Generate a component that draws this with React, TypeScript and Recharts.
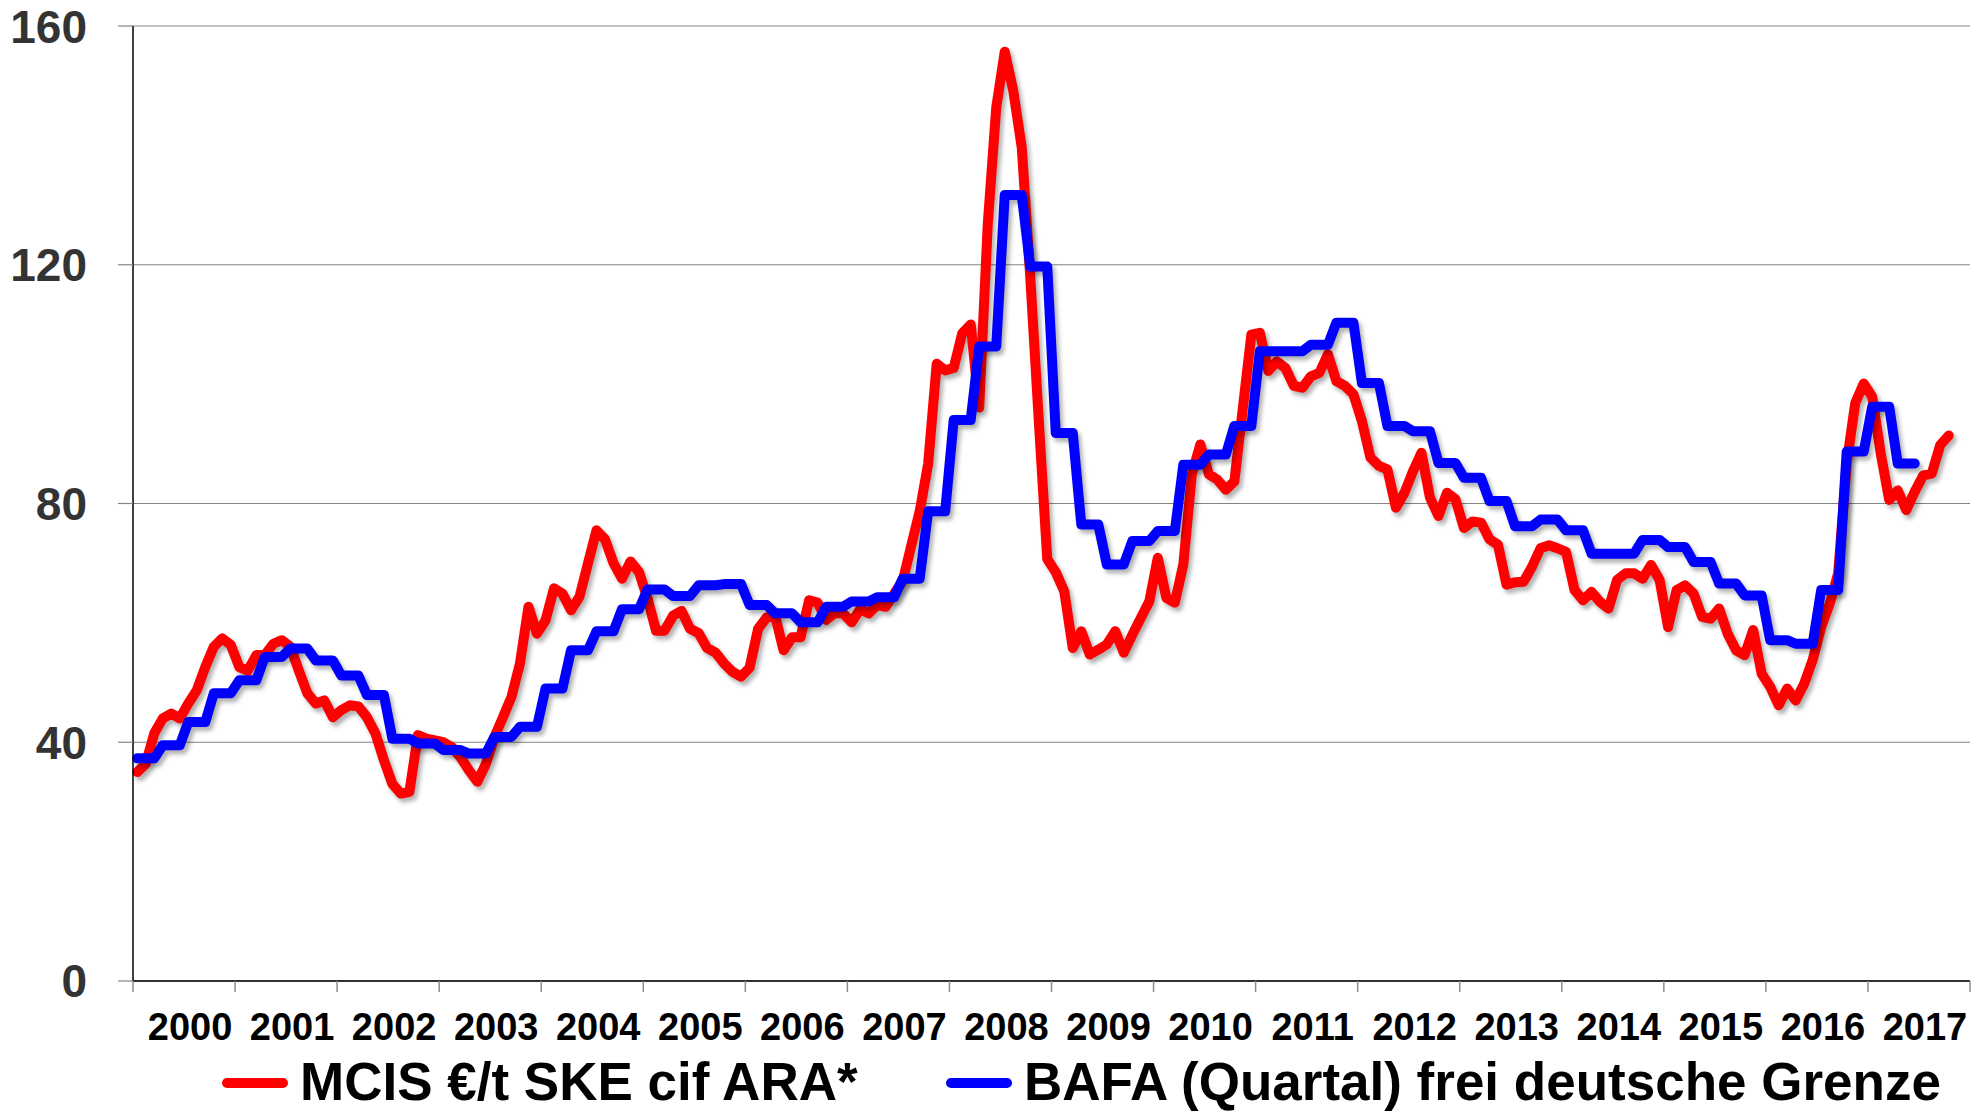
import React from "react";
import { LineChart, Line, XAxis, YAxis, CartesianGrid } from "recharts";

// Jahresachse
const years = [
  2000, 2001, 2002, 2003, 2004, 2005, 2006, 2007, 2008,
  2009, 2010, 2011, 2012, 2013, 2014, 2015, 2016, 2017,
];
const yTicks = [0, 40, 80, 120, 160];

// MCIS €/t SKE cif ARA, Monatswerte
const mcis2000 = [35, 36.4, 41.5, 44, 44.8, 44, 46.5, 48.7, 52.6, 56, 57.4, 56.3];
const mcis2001 = [52.6, 52, 54.6, 54.6, 56.5, 57.1, 56, 52, 48.2, 46.5, 47, 44.2];
const mcis2002 = [45.4, 46.2, 46, 44.2, 41.5, 37, 33, 31.4, 31.7, 41.2, 40.6, 40.3];
const mcis2003 = [40, 39.2, 37.5, 35.3, 33.4, 36.4, 40.9, 44.2, 47.6, 53.2, 62.7, 58.2];
const mcis2004 = [60.4, 65.8, 64.9, 62.1, 64.4, 70, 75.5, 74, 70, 67.4, 70.3, 68.5];
const mcis2005 = [64.1, 58.7, 58.7, 61.2, 62, 59, 58.3, 55.8, 55, 53.2, 51.8, 51];
const mcis2006 = [52.5, 59, 60.9, 61.2, 55.4, 57.6, 57.6, 63.8, 63.4, 60.5, 61.6, 61.6];
const mcis2007 = [60.1, 62.3, 61.6, 63, 62.7, 64.9, 67, 72.9, 78.7, 86.7, 103.4, 102.3];
const mcis2008 = [102.7, 108.5, 110, 96.1, 126.7, 146.3, 155.7, 149.2, 139.7, 118, 94, 70.7];
const mcis2009 = [68.5, 65.3, 55.8, 58.6, 54.7, 55.5, 56.4, 58.6, 55, 58, 60.8, 63.6];
const mcis2010 = [70.9, 64.2, 63.4, 69.8, 84.9, 89.9, 84.9, 84, 82.3, 83.7, 96, 108.3];
const mcis2011 = [108.6, 102.2, 103.8, 102.7, 99.7, 99.4, 101.3, 101.9, 105, 100.5, 99.7, 98.3];
const mcis2012 = [93.8, 87.7, 86.3, 85.7, 79.3, 81.8, 85.4, 88.5, 81, 77.9, 81.8, 80.7];
const mcis2013 = [75.9, 77, 76.8, 74, 73.1, 66.4, 66.8, 66.9, 69.4, 72.5, 73, 72.5];
const mcis2014 = [71.9, 65.5, 63.8, 65.2, 63.5, 62.4, 67.2, 68.3, 68.3, 67.4, 69.7, 67.2];
const mcis2015 = [59.3, 65.5, 66.3, 64.9, 61, 60.7, 62.4, 58.2, 55.4, 54.6, 58.8, 51.5];
const mcis2016 = [49.3, 46.2, 49, 47, 49.8, 53.8, 59.3, 63.2, 68.3, 86.7, 96.8, 100.1];
const mcis2017 = [97.9, 88.4, 80.6, 82.2, 78.9, 82, 84.7, 85, 89.8, 91.4];

// BAFA frei deutsche Grenze, Quartalswerte 2000 Q1 .. 2017 Q2
const bafaQuarterly = [
  37.3, 39.5, 43.4, 48.2, // 2000
  50.4, 54.3, 55.7, 53.7, // 2001
  51.2, 47.9, 40.6, 39.8, // 2002
  38.7, 38.1, 40.9, 42.6, // 2003
  49, 55.4, 58.6, 62.3, // 2004
  65.6, 64.5, 66.3, 66.5, // 2005
  63, 61.6, 60.1, 62.7, // 2006
  63.6, 64.3, 67.4, 78.7, // 2007
  94, 106.3, 131.7, 119.7, // 2008
  91.8, 76.5, 69.8, 73.7, // 2009
  75.4, 86.5, 88.2, 93, // 2010
  105.5, 105.5, 106.6, 110.3, // 2011
  100.2, 93, 92.1, 86.8, // 2012
  84.3, 80.4, 76.2, 77.3, // 2013
  75.5, 71.6, 71.6, 73.9, // 2014
  72.7, 70.2, 66.6, 64.6, // 2015
  57.1, 56.5, 65.5, 88.7, // 2016
  96.2, 86.7, // 2017
];

const mcis = [
  ...mcis2000, ...mcis2001, ...mcis2002, ...mcis2003, ...mcis2004, ...mcis2005,
  ...mcis2006, ...mcis2007, ...mcis2008, ...mcis2009, ...mcis2010, ...mcis2011,
  ...mcis2012, ...mcis2013, ...mcis2014, ...mcis2015, ...mcis2016, ...mcis2017,
];

// one row per month; the quarterly BAFA value holds for its three months
const chartData = mcis.map((v, m) => ({
  x: m + 0.5,
  mcis: v,
  bafa: bafaQuarterly[Math.floor(m / 3)],
}));

const yearTicks = [...years.map((_, i) => i * 12), years.length * 12];

const W = 1983;
const H = 1112;
const LEFT = 133;
const RIGHT = 13;
const halfYear = (W - LEFT - RIGHT) / (years.length * 2);
const font = "'Liberation Sans', Arial, sans-serif";

const YearTick = (props: any) => {
  const { x, y, payload } = props;
  const idx = yearTicks.indexOf(payload.value);
  return (
    <g>
      <line x1={x} y1={y} x2={x} y2={y + 11} stroke="#8c8c8c" strokeWidth={1.5} />
      {idx >= 0 && idx < years.length && (
        <text
          x={x + halfYear + 6}
          y={y + 59}
          textAnchor="middle"
          fontFamily={font}
          fontWeight="bold"
          fontSize={38}
          fill="#000"
        >
          {years[idx]}
        </text>
      )}
    </g>
  );
};

export default function App() {
  return (
    <div style={{ position: "absolute", left: 0, top: 0, width: W, height: H, background: "#fff" }}>
      <style>{`.recharts-line-curve { filter: drop-shadow(3px 4px 2px rgba(0,0,0,0.3)); }`}</style>
      <LineChart
        width={W}
        height={H}
        data={chartData}
        margin={{ top: 26, right: RIGHT, bottom: 0, left: 0 }}
      >
        <CartesianGrid horizontal vertical={false} stroke="#858585" strokeWidth={1.2} />
        <XAxis
          type="number"
          dataKey="x"
          domain={[0, years.length * 12]}
          ticks={yearTicks}
          interval={0}
          height={131}
          tickLine={false}
          tickSize={0}
          tickMargin={0}
          tick={<YearTick />}
          axisLine={{ stroke: "#000", strokeWidth: 1.5 }}
        />
        <YAxis
          domain={[0, 160]}
          ticks={yTicks}
          width={LEFT}
          tickSize={15}
          tickMargin={31}
          tickLine={{ stroke: "#858585", strokeWidth: 1.2 }}
          axisLine={{ stroke: "#000", strokeWidth: 1.5 }}
          tick={{ fontSize: 46, fontWeight: "bold", fill: "#333", fontFamily: font }}
        />
        <Line
          dataKey="mcis"
          type="linear"
          stroke="#ff0000"
          strokeWidth={10}
          strokeLinejoin="round"
          strokeLinecap="round"
          dot={false}
          isAnimationActive={false}
        />
        <Line
          dataKey="bafa"
          type="linear"
          stroke="#0000ff"
          strokeWidth={10}
          strokeLinejoin="round"
          strokeLinecap="round"
          dot={false}
          isAnimationActive={false}
        />
      </LineChart>
      <svg
        width={W}
        height={H}
        style={{ position: "absolute", left: 0, top: 0, pointerEvents: "none" }}
      >
        <line x1={227} y1={1083} x2={283} y2={1083} stroke="#ff0000" strokeWidth={10} strokeLinecap="round" />
        <text x={300} y={1100} fontFamily={font} fontWeight="bold" fontSize={53} fill="#000">
          MCIS €/t SKE cif ARA*
        </text>
        <line x1={951} y1={1083} x2={1007} y2={1083} stroke="#0000ff" strokeWidth={10} strokeLinecap="round" />
        <text x={1024} y={1100} fontFamily={font} fontWeight="bold" fontSize={53} fill="#000">
          BAFA (Quartal) frei deutsche Grenze
        </text>
      </svg>
    </div>
  );
}
